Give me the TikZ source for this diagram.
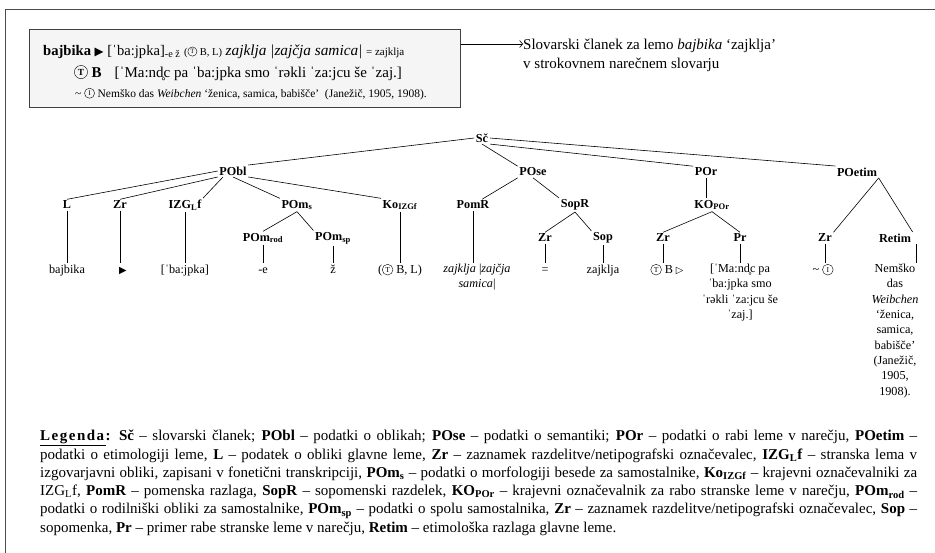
\documentclass[tikz,border=0pt]{standalone}
\usepackage{fontspec}
\setmainfont{Liberation Serif}
\newfontfamily\symf[Scale=0.8]{DejaVu Sans}
\usetikzlibrary{arrows.meta}
\newcommand{\circled}[1]{\tikz[baseline={([yshift=-0.33em]cc.center)}]\node[draw, circle, inner sep=0pt, minimum size=0.88em, line width=0.4pt, anchor=center] (cc) at (0,0) {\scalebox{0.62}{#1}};}
\newcommand{\cT}{\circled{T}}
\newcommand{\cI}{\circled{I}}
\newcommand{\tri}{{\symf ▶}}
\newcommand{\otri}{{\symf ▷}}
\newcommand{\sbs}[1]{\textsubscript{#1}}
\newcommand{\lgline}[1]{\makebox[877pt][s]{#1}}
\begin{document}
\begin{tikzpicture}[x=1pt,y=-1pt,
  tn/.style={font=\fontsize{12.2}{14}\selectfont\bfseries, inner sep=1.5pt},
  lf/.style={font=\fontsize{12.2}{15.3}\selectfont, align=center, inner sep=1pt, anchor=north},
  lfone/.style={lf, text height=9.5pt, text depth=3pt},
  edge/.style={line width=0.6pt},
  frameline/.style={line width=1.6pt, draw=black!70},
  txt/.style={inner sep=0pt, anchor=base west},
]
\useasboundingbox (0,0) rectangle (935,552);
\draw[frameline] (945,9.5) -- (5.5,9.5) -- (5.5,560);

% dictionary entry box
\fill[black!50] (30.3,30.3) rectangle (461.3,108.3);
\node[draw=black!75, fill=black!4, line width=0.8pt, minimum width=431pt, minimum height=78pt, inner sep=0pt, anchor=north west] (entry) at (29,29) {};
\node[txt] (bl1) at (43,55) {\fontsize{14.6}{17}\selectfont\textbf{bajbika} \tri\ [ˈba:jpka]\sbs{-e ž} {\fontsize{10.5}{12}\selectfont(\cT\ B, L)} {\itshape\fontsize{15.3}{18}\selectfont zajklja |zajčja samica|} {\fontsize{11}{12}\selectfont = zajklja}};
\node[txt] (bl2) at (74,77) {\fontsize{15}{17}\selectfont\textbf{\cT\ B}\hspace{13pt}[ˈMa:nd̥c pa ˈba:jpka smo ˈrəkli ˈza:jcu še ˈzaj.]};
\node[txt] (bl3) at (75,97) {\fontsize{11.5}{13}\selectfont \textasciitilde\ \cI\ Nemško das \textit{Weibchen} ‘ženica, samica, babišče’\ \ (Janežič, 1905, 1908).};

\node[txt] (desc1) at (523,49) {\fontsize{15}{18}\selectfont Slovarski članek za lemo \textit{bajbika} ‘zajklja’};
\node[txt] (desc2) at (523,68.5) {\fontsize{15}{18}\selectfont v strokovnem narečnem slovarju};
\draw[line width=0.6pt, -{Straight Barb[length=3pt,width=7pt]}] ([yshift=-15pt]entry.north east) -- (desc1.west |- 0,44);

% tree nodes
\node[tn] (Sc) at (482,138) {Sč};
\node[tn] (PObl) at (233,171) {PObl};
\node[tn] (POse) at (533,172) {POse};
\node[tn] (POr) at (706,172) {POr};
\node[tn] (POetim) at (857,172) {POetim};
\node[tn] (L) at (67,205) {L};
\node[tn] (Zra) at (120,205) {Zr};
\node[tn] (IZG) at (185,205) {IZG\sbs{L}f};
\node[tn] (POms) at (297,205) {POm\sbs{s}};
\node[tn] (Ko) at (400,205) {Ko\sbs{IZGf}};
\node[tn] (PomR) at (473,205) {PomR};
\node[tn] (SopR) at (575,205) {SopR};
\node[tn] (KO) at (712,205) {KO\sbs{POr}};
\node[tn] (POmrod) at (263,238) {POm\sbs{rod}};
\node[tn] (POmsp) at (333,238) {POm\sbs{sp}};
\node[tn] (Zrb) at (545,238) {Zr};
\node[tn] (Sop) at (603,238) {Sop};
\node[tn] (Zrc) at (663,238) {Zr};
\node[tn] (Pr) at (740,238) {Pr};
\node[tn] (Zrd) at (825,238) {Zr};
\node[tn] (Retim) at (895,238) {Retim};

% leaves
\node[lfone] (lL) at (67,263) {bajbika};
\node[lfone] (lZra) at (123,263) {\tri};
\node[lfone] (lIZG) at (185,263) {[ˈba:jpka]};
\node[lfone] (lrod) at (263,263) {-e};
\node[lfone] (lsp) at (333,263) {ž};
\node[lfone] (lKo) at (400,263) {(\cT\ B, L)};
\node[lf] (lPomR) at (477,263) {\textit{zajklja} |\textit{zajčja}\\\textit{samica}|};
\node[lfone] (lZrb) at (545,263) {=};
\node[lfone] (lSop) at (603,263) {zajklja};
\node[lfone] (lZrc) at (667,263) {\cT\ B \otri};
\node[lf] (lPr) at (740,263) {[ˈMa:nd̥c pa\\ˈba:jpka smo\\ˈrəkli ˈza:jcu še\\ˈzaj.]};
\node[lfone] (lZrd) at (823,263) {\textasciitilde\ \cI};
\node[lf] (lRetim) at (895,263) {Nemško\\das\\\textit{Weibchen}\\‘ženica,\\samica,\\babišče’\\(Janežič,\\1905,\\1908).};

% tree edges
\draw[edge] (Sc.west) -- (PObl.north east);
\draw[edge] (Sc.south) -- (POse.north west);
\draw[edge] (Sc.south east) -- (POr.north west);
\draw[edge] (Sc.east) -- (POetim.north west);
\draw[edge] (PObl.west) -- (L.north);
\draw[edge] (PObl.south west) -- (Zra.north);
\draw[edge] ([xshift=-10pt]PObl.south) -- (IZG.north east);
\draw[edge] (PObl.south) -- (POms.north west);
\draw[edge] (PObl.south east) -- (Ko.north west);
\draw[edge] (POms.south) -- (POmrod.north);
\draw[edge] (POms.south) -- (POmsp.north west);
\draw[edge] (POse.south west) -- ([xshift=9pt]PomR.north);
\draw[edge] (POse.south) -- (SopR.north west);
\draw[edge] (SopR.south) -- (Zrb.north);
\draw[edge] (SopR.south) -- (Sop.north west);
\draw[edge] (POr.south) -- (POr.south |- KO.north);
\draw[edge] (KO.south) -- (Zrc.north);
\draw[edge] (KO.south) -- (Pr.north);
\draw[edge] (POetim.south east) -- (Zrd.north east);
\draw[edge] (POetim.south east) -- (Retim.north east);

% leaf connectors
\foreach \p/\q in {L/lL, Zra/lZra, IZG/lIZG, POmrod/lrod, POmsp/lsp, Ko/lKo, PomR/lPomR, Zrb/lZrb, Sop/lSop, Zrc/lZrc, Pr/lPr, Zrd/lZrd}
  \draw[edge] (\p.south) -- (\p.south |- \q.north);
\coordinate (rt) at ([xshift=4pt]Retim.south east);
\draw[edge] (rt) -- (rt |- lRetim.north);

% legend
\node[anchor=north west, inner sep=0pt, align=left, font=\fontsize{15}{18.3}\selectfont] (legend) at (40,430) {%
\lgline{\underline{\textbf{\addfontfeature{LetterSpace=10}Legenda}}\textbf{:} \textbf{Sč} – slovarski članek; \textbf{PObl} – podatki o oblikah; \textbf{POse} – podatki o semantiki; \textbf{POr} – podatki o rabi leme v narečju, \textbf{POetim} –}\\
\lgline{podatki o etimologiji leme, \textbf{L} – podatek o obliki glavne leme, \textbf{Zr} – zaznamek razdelitve/netipografski označevalec, \textbf{IZG\sbs{L}f} – stranska lema v}\\
\lgline{izgovarjavni obliki, zapisani v fonetični transkripciji, \textbf{POm\sbs{s}} – podatki o morfologiji besede za samostalnike, \textbf{Ko\sbs{IZGf}} – krajevni označevalniki za}\\
\lgline{IZG\sbs{L}f, \textbf{PomR} – pomenska razlaga, \textbf{SopR} – sopomenski razdelek, \textbf{KO\sbs{POr}} – krajevni označevalnik za rabo stranske leme v narečju, \textbf{POm\sbs{rod}} –}\\
\lgline{podatki o rodilniški obliki za samostalnike, \textbf{POm\sbs{sp}} – podatki o spolu samostalnika, \textbf{Zr} – zaznamek razdelitve/netipografski označevalec, \textbf{Sop} –}\\
sopomenka, \textbf{Pr} – primer rabe stranske leme v narečju, \textbf{Retim} – etimološka razlaga glavne leme.};
\end{tikzpicture}
\end{document}
